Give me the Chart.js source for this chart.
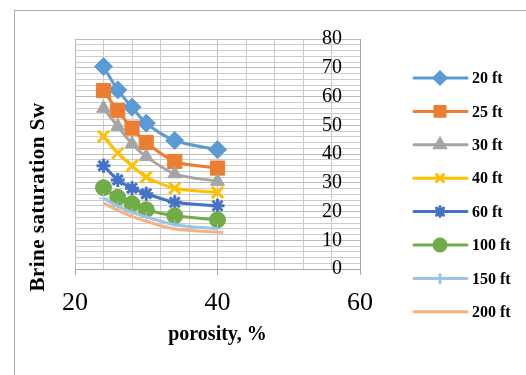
<!DOCTYPE html>
<html>
<head>
<meta charset="utf-8">
<script src="https://cdn.jsdelivr.net/npm/chart.js@4.4.0/dist/chart.umd.min.js"></script>
<style>
  body { margin: 0; background: #fff; }
  .frame { position: relative; width: 526px; height: 375px; overflow: hidden; }
  .border { position: absolute; left: 14px; top: 10px; width: 600px; height: 600px; border: 1px solid #ABABAB; }
  canvas { position: absolute; left: 0; top: 0; }
</style>
</head>
<body>
<div class="frame">
  <div class="border"></div>
  <canvas id="myChart" width="526" height="375"></canvas>
</div>
<script>
// porosity (%) on x, brine saturation Sw on y, one series per depth
const porosity = [24, 26, 28, 30, 34, 40];
const porosity200 = [24, 26, 28, 30, 34, 40.8];
const depthLabels = ["20 ft", "25 ft", "30 ft", "40 ft", "60 ft", "100 ft", "150 ft", "200 ft"];
const sw20 = [70.4, 62.3, 56.3, 50.7, 44.7, 41.5];
const sw25 = [62.1, 55.1, 49.0, 44.0, 37.4, 35.1];
const sw30 = [55.9, 49.6, 43.5, 39.1, 33.1, 30.5];
const sw40 = [46.1, 40.3, 35.9, 32.0, 28.1, 26.6];
const sw60 = [35.9, 31.0, 28.1, 26.2, 23.2, 22.0];
const sw100 = [28.3, 24.9, 22.7, 20.6, 18.5, 17.1];
const sw150 = [24.6, 21.8, 19.7, 18.1, 15.4, 14.0];
const sw200 = [22.9, 20.4, 18.3, 16.6, 13.9, 12.7];
const xTickLabels = [20, 40, 60];
const yTickLabels = [0, 10, 20, 30, 40, 50, 60, 70, 80];

const seriesY = [sw20, sw25, sw30, sw40, sw60, sw100, sw150, sw200];
const seriesX = [porosity, porosity, porosity, porosity, porosity, porosity, porosity, porosity200];
const colors = ["#5B9BD5", "#ED7D31", "#A5A5A5", "#FFC000", "#4472C4", "#70AD47", "#9DC3E6", "#F4B183"];
const markers = ["rectRot", "rect", "triangle", "crossRot", "star", "circle", "cross", false];
const markerSize = [9, 10, 8, 8, 7, 8, 5, 0];
const markerBorder = [1, 1, 1, 3, 3, 1, 1, 0];
const legendSize = [6, 7, 6, 5, 5, 6, 4, 0];

const serif = "'Liberation Serif', 'Times New Roman', serif";

const datasets = depthLabels.map((label, i) => ({
  label: label,
  data: seriesX[i].map((x, j) => ({ x: x, y: seriesY[i][j] })),
  borderColor: colors[i],
  backgroundColor: colors[i],
  borderWidth: 3,
  tension: 0.3,
  pointStyle: markers[i],
  pointRadius: markerSize[i],
  pointBorderWidth: markerBorder[i],
  order: -i,
}));

const sideLegend = {
  id: "sideLegend",
  afterDraw(chart) {
    const ctx = chart.ctx;
    chart.data.datasets.forEach((ds, i) => {
      const y = 78 + i * 33.4;
      ctx.save();
      ctx.strokeStyle = ds.borderColor;
      ctx.fillStyle = ds.borderColor;
      ctx.lineWidth = 3;
      ctx.lineCap = "round";
      ctx.beginPath();
      ctx.moveTo(414, y);
      ctx.lineTo(467, y);
      ctx.stroke();
      if (ds.pointStyle) {
        Chart.helpers.drawPoint(ctx, {
          pointStyle: ds.pointStyle,
          radius: legendSize[i],
          borderWidth: ds.pointBorderWidth,
          rotation: 0,
        }, 440, y);
      }
      ctx.fillStyle = "#000";
      ctx.font = "bold 16px " + serif;
      ctx.textBaseline = "middle";
      ctx.textAlign = "left";
      ctx.fillText(ds.label, 472, y + 1);
      ctx.restore();
    });

    // y axis title sits on the left, away from the right-hand axis
    ctx.save();
    ctx.translate(39, 197);
    ctx.rotate(-Math.PI / 2);
    ctx.font = "bold 21px " + serif;
    ctx.letterSpacing = "0.5px";
    ctx.fillStyle = "#000";
    ctx.textAlign = "center";
    ctx.textBaseline = "middle";
    ctx.fillText("Brine saturation Sw", 0, 0);
    ctx.restore();
  },
};

new Chart(document.getElementById("myChart"), {
  type: "line",
  data: { datasets: datasets },
  options: {
    responsive: false,
    animation: false,
    layout: { padding: { left: 75, right: 166, top: 39, bottom: 0 } },
    plugins: { legend: { display: false }, tooltip: { enabled: false } },
    scales: {
      x: {
        type: "linear",
        min: 20,
        max: 60,
        afterFit(scale) { scale.height = 106; },
        ticks: {
          stepSize: 4,
          maxTicksLimit: 100,
          autoSkip: false,
          maxRotation: 0,
          padding: 13,
          color: "#000",
          font: { family: serif, size: 26 },
          callback: (v) => (xTickLabels.includes(v) ? v : ""),
        },
        grid: {
          color: (c) => (c.tick && c.tick.value % 20 === 0 ? "#BBBBBB" : "#CCCCCC"),
          tickLength: 6,
          tickColor: (c) => (c.tick && c.tick.value % 20 === 0 ? "#A6A6A6" : "rgba(0,0,0,0)"),
        },
        border: { color: "#A6A6A6" },
        title: {
          display: true,
          text: "porosity, %",
          color: "#000",
          font: { family: serif, size: 20, weight: "bold" },
          padding: { top: 0, bottom: 28 },
        },
      },
      y: {
        position: "right",
        min: 0,
        max: 80,
        afterFit(scale) { scale.width = 0; },
        ticks: {
          stepSize: 2,
          maxTicksLimit: 100,
          autoSkip: false,
          mirror: true,
          padding: -18,
          color: "#000",
          font: { family: serif, size: 20 },
          callback: (v) => (yTickLabels.includes(v) ? v : ""),
        },
        grid: {
          color: (c) => (c.tick && c.tick.value % 10 === 0 ? "#BBBBBB" : "#CCCCCC"),
          drawTicks: false,
        },
        border: { color: "#A6A6A6" },
      },
    },
  },
  plugins: [sideLegend],
});
</script>
</body>
</html>
